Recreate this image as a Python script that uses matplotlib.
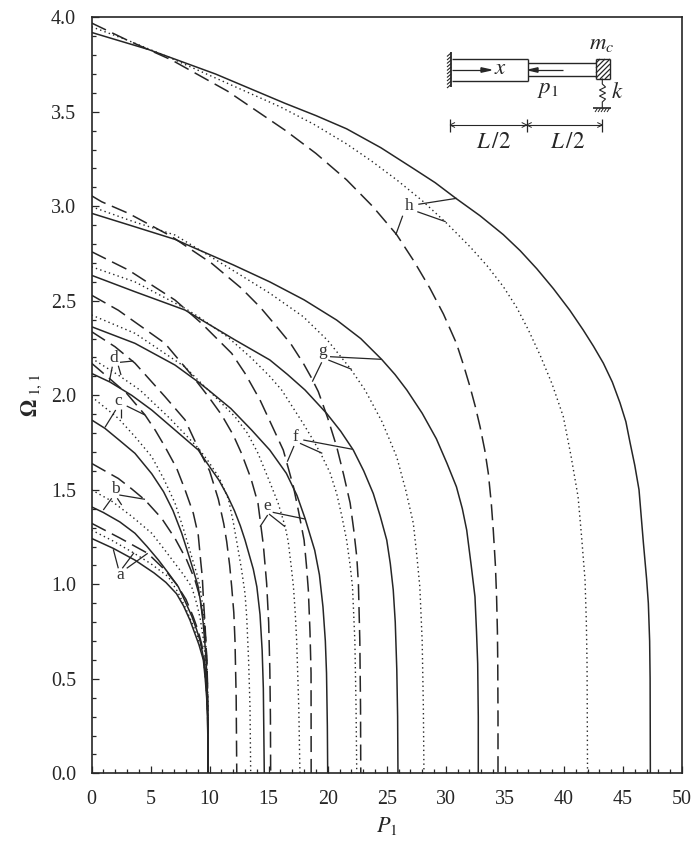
import matplotlib
matplotlib.use("Agg")
import matplotlib.pyplot as plt
from matplotlib.ticker import MultipleLocator
from matplotlib.transforms import Affine2D
from matplotlib.patches import Polygon

W, H = 693, 843
plt.rcParams['font.family'] = ['Liberation Serif', 'DejaVu Serif']
plt.rcParams['mathtext.fontset'] = 'stix'

INK = '#262626'

# (P1, Omega) pairs.  Families a-h; s = solid, o = dotted, d = dashed
a_s = [(0,1.243),(1.85,1.19),(3.68,1.128),(5.3,1.06),(6.3,1.01),(7.2,.95),(7.8,.885),(8.34,.81),(8.75,.74),(9.1,.68),(9.47,.6),(9.63,.5),(9.75,.4),(9.83,.3),(9.88,0)]
a_o = [(0,1.287),(1.8,1.23),(3.54,1.167),(5,1.11),(6.5,1.04),(7.3,.96),(8,.87),(8.55,.79),(9,.72),(9.3,.65),(9.5,.6),(9.65,.5),(9.77,.4),(9.85,.3),(9.88,0)]
a_d = [(0,1.323),(2.4,1.245),(4.76,1.164),(6.22,1.076),(7.2,1.0),(8,.92),(8.6,.83),(9,.76),(9.3,.69),(9.5,.63),(9.67,.52),(9.78,.4),(9.85,.3),(9.88,0)]
b_s = [(0,1.41),(1,1.38),(2.4,1.33),(3.68,1.27),(4.7,1.2),(5.66,1.129),(6.5,1.06),(7.35,.987),(8,.9),(8.5,.83),(8.9,.76),(9.2,.7),(9.45,.62),(9.6,.55),(9.75,.45),(9.83,.35),(9.88,0)]
b_o = [(0,1.5),(1.71,1.44),(3.4,1.36),(5.1,1.27),(6.1,1.19),(7.07,1.11),(7.8,1.05),(8.48,.987),(8.9,.9),(9.2,.82),(9.45,.72),(9.65,.6),(9.8,.48),(9.85,.35),(9.88,0)]
b_d = [(0,1.64),(2.27,1.56),(3.4,1.505),(4.53,1.446),(5.94,1.349),(7.07,1.243),(8.06,1.129),(8.76,1.023),(9.1,.95),(9.3,.88),(9.5,.8),(9.65,.72),(9.77,.6),(9.83,.45),(9.88,0)]
c_s = [(0,1.87),(1.14,1.825),(2.4,1.76),(3.68,1.693),(5.1,1.585),(6.1,1.49),(6.9,1.39),(7.64,1.27),(8.1,1.18),(8.5,1.1),(9.02,.99),(9.25,.9),(9.45,.8),(9.65,.65),(9.8,.48),(9.88,0)]
c_o = [(0,1.993),(2.27,1.878),(3.7,1.78),(5.1,1.675),(6.1,1.56),(7.07,1.43),(7.8,1.29),(8.48,1.146),(8.9,1.06),(9.19,.987),(9.45,.87),(9.62,.75),(9.77,.58),(9.83,.45),(9.88,0)]
c_d = [(0,2.17),(1.5,2.09),(2.98,2.01),(4.53,1.896),(5.4,1.815),(6.22,1.728),(7.21,1.614),(7.92,1.5),(8.62,1.376),(9.04,1.26),(9.25,1.12),(9.38,1.04),(9.47,.93),(9.6,.8),(9.7,.68),(9.8,.52),(9.88,0)]
d_s = [(0,2.116),(1.57,2.07),(3.4,2.0),(5.1,1.922),(7,1.82),(9.05,1.71),(9.6,1.658),(10.8,1.55),(11.5,1.47),(12.1,1.39),(12.6,1.31),(13,1.234),(13.7,1.08),(14,.987),(14.27,.84),(14.45,.65),(14.55,.45),(14.63,0)]
d_o = [(0,2.196),(2.27,2.107),(4.1,2.028),(6.6,1.88),(9.05,1.72),(9.9,1.65),(10.8,1.565),(11.6,1.45),(12.0,1.33),(12.3,1.225),(12.7,1.08),(13,.95),(13.14,.829),(13.3,.6),(13.42,.352),(13.48,0)]
d_d = [(0,2.337),(1.99,2.257),(3.68,2.17),(6.22,1.993),(7.92,1.87),(9.19,1.70),(10,1.6),(10.74,1.45),(11.2,1.32),(11.45,1.225),(11.7,1.1),(11.87,.987),(12.05,.85),(12.15,.7),(12.25,.4),(12.3,0)]
e_s = [(0,2.363),(3.68,2.275),(7.07,2.16),(9.05,2.07),(9.9,2.028),(11.8,1.93),(13.56,1.816),(15.1,1.71),(16.5,1.587),(17.4,1.47),(18.08,1.349),(18.9,1.18),(19.3,1.05),(19.6,.88),(19.8,.7),(19.9,.53),(19.97,.25),(20,0)]
e_o = [(0,2.425),(3.68,2.328),(7.92,2.15),(9.19,2.07),(10.18,2.01),(12.15,1.887),(13.2,1.8),(14.1,1.693),(15.1,1.54),(15.8,1.43),(16.4,1.305),(16.66,1.225),(16.9,1.1),(17.1,.987),(17.25,.85),(17.37,.705),(17.55,.35),(17.65,0)]
e_d = [(0,2.53),(2.27,2.45),(6.22,2.275),(8.48,2.107),(9.9,1.993),(11.02,1.896),(12,1.79),(12.7,1.693),(13.5,1.56),(14.1,1.428),(14.55,1.208),(14.83,1.005),(15.0,.8),(15.1,.55),(15.15,.3),(15.17,0)]
f_s = [(0,2.635),(3.68,2.548),(7.92,2.451),(8.48,2.43),(12.15,2.293),(15.1,2.187),(16.6,2.11),(18.08,2.028),(19.9,1.905),(21.1,1.81),(22.17,1.71),(23.05,1.6),(23.86,1.48),(24.45,1.36),(25,1.234),(25.3,1.11),(25.55,.97),(25.72,.8),(25.85,.55),(25.92,.3),(25.95,0)]
f_o = [(0,2.68),(3.68,2.6),(7.92,2.46),(9.05,2.416),(11.5,2.31),(13.56,2.196),(15.1,2.1),(16.1,2.028),(17.93,1.85),(18.8,1.76),(19.5,1.68),(20.2,1.59),(20.76,1.48),(21.2,1.36),(21.6,1.234),(21.9,1.1),(22.1,.987),(22.3,.7),(22.4,.35),(22.46,0)]
f_d = [(0,2.76),(3.12,2.663),(7.07,2.504),(9.33,2.38),(11.87,2.222),(13,2.116),(14.27,1.975),(15.2,1.85),(16.24,1.71),(17.1,1.516),(17.55,1.38),(18,1.234),(18.2,1.1),(18.36,.97),(18.5,.75),(18.59,.53),(18.6,0)]
g_s = [(0,2.963),(3.5,2.895),(7.07,2.825),(8.48,2.786),(12,2.69),(15.1,2.6),(18,2.505),(20.76,2.398),(22.8,2.3),(24.57,2.19),(25.7,2.11),(26.7,2.028),(28,1.905),(29.2,1.77),(30.1,1.64),(30.9,1.516),(31.4,1.4),(31.77,1.287),(32.15,1.1),(32.47,.934),(32.6,.75),(32.7,.58),(32.75,.3),(32.75,0)]
g_o = [(0,2.998),(3.5,2.92),(7.07,2.848),(9.05,2.773),(12,2.66),(15.1,2.54),(17.93,2.416),(20,2.29),(21.9,2.143),(23.16,2.028),(24.6,1.86),(25.84,1.675),(26.6,1.5),(27.25,1.323),(27.55,1.15),(27.8,.987),(28,.7),(28.1,.35),(28.15,0)]
g_d = [(0,3.056),(.86,3.024),(3.12,2.963),(6.79,2.84),(10.18,2.698),(12.7,2.566),(14.3,2.465),(15.68,2.363),(16.9,2.27),(17.93,2.17),(18.6,2.095),(19.2,2.02),(20,1.88),(20.76,1.728),(21.35,1.58),(21.9,1.43),(22.2,1.29),(22.46,1.146),(22.6,1.005),(22.72,.7),(22.78,.35),(22.8,0)]
h_s = [(0,3.92),(4.81,3.83),(10.5,3.70),(16.38,3.545),(19,3.48),(21.6,3.41),(24.5,3.31),(27.25,3.2),(29.1,3.125),(30.9,3.04),(32.9,2.95),(34.87,2.85),(36.3,2.765),(37.7,2.67),(39.1,2.565),(40.5,2.45),(41.64,2.345),(42.5,2.26),(43.34,2.17),(44.1,2.07),(44.75,1.96),(45.25,1.86),(45.6,1.75),(46.0,1.63),(46.36,1.5),(46.73,1.22),(47.0,1.03),(47.15,.9),(47.26,.7),(47.3,.5),(47.32,0)]
h_o = [(0,3.95),(3,3.88),(6.5,3.79),(11,3.665),(15.96,3.527),(18.8,3.435),(21.6,3.33),(23.7,3.24),(25.84,3.14),(28,3.03),(30.08,2.91),(32.05,2.786),(33.5,2.685),(34.87,2.575),(36,2.465),(37,2.345),(38,2.21),(39,2.06),(39.95,1.887),(40.6,1.68),(41.2,1.463),(41.5,1.25),(41.79,1.023),(41.9,.8),(41.96,.58),(41.98,.3),(42,0)]
h_d = [(0,3.97),(3,3.88),(6.79,3.774),(11.5,3.61),(16.38,3.403),(19,3.28),(21.6,3.14),(23.8,3.0),(25.84,2.85),(27.3,2.71),(28.66,2.566),(29.8,2.43),(30.9,2.275),(31.5,2.16),(32.05,2.045),(32.5,1.94),(32.9,1.834),(33.3,1.71),(33.6,1.587),(33.85,1.43),(34.02,1.287),(34.2,1.1),(34.3,.934),(34.37,.75),(34.4,.58),(34.42,.3),(34.42,0)]

solid_curves = [a_s, b_s, c_s, d_s, e_s, f_s, g_s, h_s]
dotted_curves = [a_o, b_o, c_o, d_o, e_o, f_o, g_o, h_o]
dashed_curves = [a_d, b_d, c_d, d_d, e_d, f_d, g_d, h_d]

x_ticks = [0, 5, 10, 15, 20, 25, 30, 35, 40, 45, 50]
y_ticks = [0.0, 0.5, 1.0, 1.5, 2.0, 2.5, 3.0, 3.5, 4.0]

# Family labels and their leader lines, in picture pixels
labels = {
 'h': ((409, 206), [((418.3,204.3),(456.7,198.3)), ((417.3,211.7),(445.7,221.7)), ((402.7,215.7),(395.7,235))]),
 'g': ((322.7, 351), [((330,356.7),(381,359.3)), ((328.3,360),(351.7,369.3)), ((321.7,362.3),(312.3,381.7))]),
 'f': ((295.7, 437), [((303.3,440),(352.7,449.3)), ((300,443.3),(322.3,453.3)), ((294,446),(287.3,461.7))]),
 'e': ((267.3, 506), [((272.7,512.3),(305,519)), ((269,514),(285,526.7)), ((267.7,515),(260,526.7))]),
 'd': ((114, 358), [((120,362.3),(133.3,361)), ((118.3,365.7),(121,375)), ((112.3,366.7),(109.3,381.7))]),
 'c': ((118.3, 401), [((126.7,406),(145,415)), ((120.7,409.3),(120.7,418.3)), ((115.7,410),(105,427.3))]),
 'b': ((115, 489), [((119.3,495),(145,499.3)), ((117.3,498.3),(121.7,505)), ((111.7,498.3),(103.3,510))]),
 'a': ((120.7, 575), [((118.3,568.3),(113.3,549.3)), ((122.3,568.3),(134,552.7)), ((126.7,568.3),(147.7,553.3))]),
}

fig = plt.figure(figsize=(W/100, H/100), dpi=100)
ax = fig.add_axes([91.5/W, 1-773.3/H, (682-91.5)/W, (773.3-17.3)/H])
px = Affine2D().scale(1/W, -1/H).translate(0, 1) + fig.transFigure

for cv in solid_curves:
    ax.plot(*zip(*cv), color=INK, lw=1.1, solid_joinstyle='round')
for cv in dotted_curves:
    ax.plot(*zip(*cv), color=INK, lw=1.0, ls=(0, (1, 2.3)))
for cv in dashed_curves:
    ax.plot(*zip(*cv), color=INK, lw=1.1, ls=(0, (10.5, 4.5)))

ax.set_xlim(0, 50)
ax.set_ylim(0, 4)
ax.set_xticks(x_ticks)
ax.set_yticks(y_ticks)
ax.set_yticklabels([f'{v:.1f}' for v in y_ticks])
ax.xaxis.set_minor_locator(MultipleLocator(1))
ax.yaxis.set_minor_locator(MultipleLocator(0.1))
ax.tick_params(which='major', direction='in', length=5.2, width=0.9, labelsize=14.4, colors=INK)
ax.tick_params(which='minor', direction='in', length=3, width=0.9, colors=INK)
ax.tick_params(axis='x', which='major', pad=12)
ax.tick_params(axis='y', which='major', pad=11)
for s in ax.spines.values():
    s.set_linewidth(1.2)
    s.set_color(INK)

fig.text(387/W, 1-826/H, r'$P_1$', ha='center', va='center', fontsize=16, color=INK)
fig.text(32/W, 1-395/H, r'$\mathbf{\Omega}_{\ \mathrm{1,1}}$', ha='center', va='center',
         rotation=90, fontsize=16, color=INK)

def seg(p, q, lw=0.9, color=INK):
    ax.plot([p[0], q[0]], [p[1], q[1]], transform=px, color=color, lw=lw, clip_on=False,
            solid_capstyle='butt', zorder=5)

for name, (pos, leads) in labels.items():
    ax.text(pos[0], pos[1], name, transform=px, ha='center', va='center', fontsize=12.5,
            color='#333333', zorder=6)
    for p, q in leads:
        seg(p, q)

# Inset schematic of the column, in picture pixels
seg((451, 51.7), (451, 86.7), lw=1.3)
for yy in [53, 56.5, 60, 63.5, 67, 70.5, 74, 77.5, 81, 84.5]:
    seg((451, yy), (447, yy+3.5), lw=0.8)
for p, q in [((451.7,59),(528.3,59)), ((451.7,80.7),(528.3,80.7)), ((528.3,59),(528.3,80.7)),
             ((528.3,63.3),(596,63.3)), ((528.3,75.7),(596,75.7)),
             ((596,59),(610,59)), ((596,79),(610,79)), ((596,59),(596,79)), ((610,59),(610,79))]:
    seg(p, q, lw=1.0)
for (p, q) in [((596,63),(600,59)), ((596,68),(605,59)), ((596,73),(610,59)), ((596,78),(610,64)),
               ((600,79),(610,69)), ((605,79),(610,74))]:
    seg(p, q, lw=0.9)
seg((451.7,70), (484,70))
ax.add_patch(Polygon([(491,70),(481,67.8),(481,72.2)], closed=True, transform=px, color=INK, clip_on=False, zorder=5))
seg((563,70), (534,70))
ax.add_patch(Polygon([(528.5,70),(538,67.8),(538,72.2)], closed=True, transform=px, color=INK, clip_on=False, zorder=5))

spring_y = [79, 84, 87, 90, 93, 96, 99, 102, 108]
spring_x = [602.3, 602.3, 605.5, 599.5, 605.5, 599.5, 605.5, 602.3, 602.3]
ax.plot(spring_x, spring_y, transform=px, color=INK, lw=0.8, clip_on=False, zorder=5)
seg((593,108.3), (610.7,108.3), lw=1.2)
for xx in [595, 598, 601, 604, 607]:
    seg((xx+2.5, 108.3), (xx, 112), lw=0.7)

seg((450,125), (602.3,125), lw=0.8)
for xx in [450, 526.7, 602.3]:
    seg((xx,118.5), (xx,131.5), lw=0.9)
for xx, d in [(450, 1), (526.7, -1), (526.7, 1), (602.3, -1)]:
    seg((xx,125), (xx+d*5,122.5), lw=0.7)
    seg((xx,125), (xx+d*5,127.5), lw=0.7)

txt = dict(transform=px, ha='center', va='center', color=INK, zorder=6, clip_on=False)
ax.text(500.7, 68.5, r'$x$', fontsize=16.5, **txt)
ax.text(547.7, 90, r'$p_1$', fontsize=16.5, **txt)
ax.text(601.7, 44, r'$m_c$', fontsize=16.5, **txt)
ax.text(617, 92.7, r'$k$', fontsize=16.5, **txt)
ax.text(493.3, 142.7, r'$L\,/2$', fontsize=16.5, **txt)
ax.text(567.3, 142.7, r'$L\,/2$', fontsize=16.5, **txt)

fig.savefig('out.png', dpi=100)
